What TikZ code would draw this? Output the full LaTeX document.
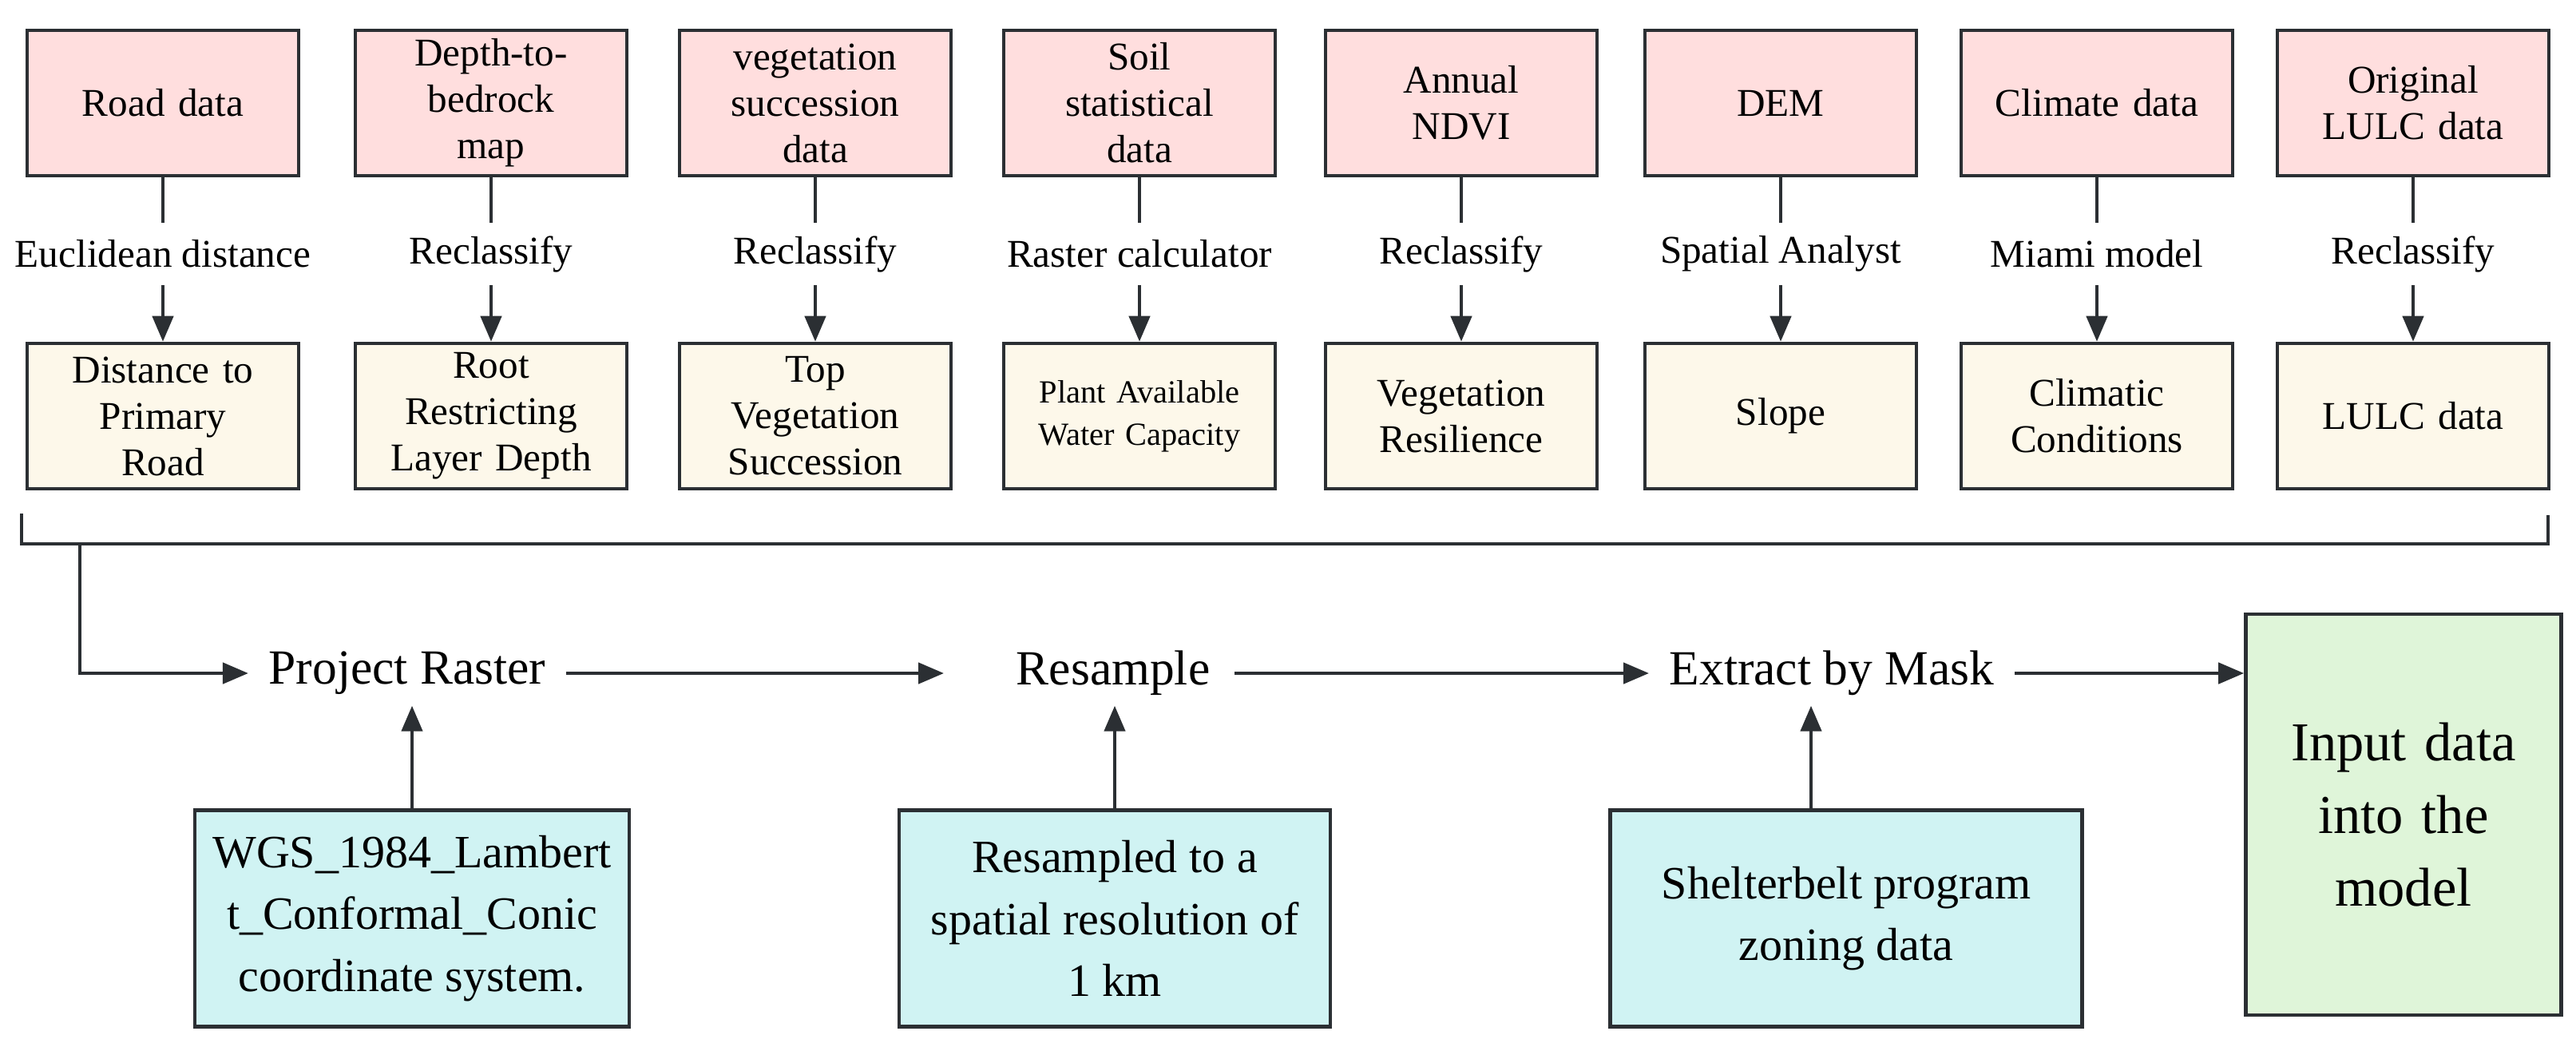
\documentclass[tikz,border=0pt]{standalone}
\usepackage{fontspec}
\setmainfont{Liberation Serif}
\usetikzlibrary{arrows.meta}

\definecolor{inkc}{HTML}{2B2F33}
\definecolor{pinkc}{HTML}{FFDEDE}
\definecolor{creamc}{HTML}{FDF8EA}
\definecolor{cyanc}{HTML}{D0F3F3}
\definecolor{greenc}{HTML}{DFF5D9}

\tikzset{
    src/.style={draw=inkc, line width=1.3pt, fill=pinkc, minimum width=3.4cm, minimum height=1.82cm,
        text width=3.2cm, align=center, inner sep=0pt, font=\rmfamily\fontsize{14}{16.5}\selectfont},
    res/.style={src, fill=creamc},
    oplabel/.style={inner sep=0pt, minimum height=0.76cm, font=\rmfamily\fontsize{14}{16}\selectfont},
    tool/.style={inner sep=0pt, minimum height=0.8cm, font=\rmfamily\fontsize{17.5}{20}\selectfont},
    info/.style={draw=inkc, line width=1.3pt, fill=cyanc, minimum height=2.71cm, align=center,
        font=\rmfamily\fontsize{16.5}{22}\selectfont},
    arr/.style={draw=inkc, line width=1.3pt, -{Triangle[length=0.32cm, width=0.26cm]}},
    ln/.style={draw=inkc, line width=1.3pt}
}

\begin{document}
\begin{tikzpicture}

        \useasboundingbox (0,0) rectangle (32.26,-13.16);

        % Sources
        \node [src] (s1) at (02.04,-01.29) {Road data};
        \node [src] (s2) at (06.15,-01.29) {Depth-to-\\bedrock\\map};
        \node [src] (s3) at (10.21,-01.29) {vegetation\\succession\\data};
        \node [src] (s4) at (14.27,-01.29) {Soil\\statistical\\data};
        \node [src] (s5) at (18.30,-01.29) {Annual\\NDVI};
        \node [src] (s6) at (22.30,-01.29) {DEM};
        \node [src] (s7) at (26.26,-01.29) {Climate data};
        \node [src] (s8) at (30.22,-01.29) {Original\\LULC data};

        % Operations
        \node [oplabel] (o1) at (02.04,-03.18) {Euclidean distance};
        \node [oplabel] (o2) at (06.15,-03.18) {Reclassify};
        \node [oplabel] (o3) at (10.21,-03.18) {Reclassify};
        \node [oplabel] (o4) at (14.27,-03.18) {Raster calculator};
        \node [oplabel] (o5) at (18.30,-03.18) {Reclassify};
        \node [oplabel] (o6) at (22.30,-03.18) {Spatial Analyst};
        \node [oplabel] (o7) at (26.26,-03.18) {Miami model};
        \node [oplabel] (o8) at (30.22,-03.18) {Reclassify};

        % Results
        \node [res] (r1) at (02.04,-05.21) {Distance to\\Primary\\Road};
        \node [res] (r2) at (06.15,-05.21) {Root\\Restricting\\Layer Depth};
        \node [res] (r3) at (10.21,-05.21) {Top\\Vegetation\\Succession};
        \node [res, font=\rmfamily\fontsize{11.5}{15}\selectfont] (r4) at (14.27,-05.21) {Plant Available\\Water Capacity};
        \node [res] (r5) at (18.30,-05.21) {Vegetation\\Resilience};
        \node [res] (r6) at (22.30,-05.21) {Slope};
        \node [res] (r7) at (26.26,-05.21) {Climatic\\Conditions};
        \node [res] (r8) at (30.22,-05.21) {LULC data};

        \foreach \i in {1,...,8} {
            \draw [ln] (s\i) -- (o\i);
            \draw [arr] (o\i) -- (r\i);
        }

        % Processing chain
        \node [tool] (pr) at (05.10,-08.43) {Project Raster};
        \node [tool] (rs) at (13.94,-08.43) {Resample};
        \node [tool] (em) at (22.94,-08.43) {Extract by Mask};
        \node [draw=inkc, line width=1.3pt, fill=greenc, minimum width=3.95cm, minimum height=5.02cm,
            text width=3.5cm, align=center, font=\rmfamily\fontsize{19.5}{26}\selectfont] (in) at (30.10,-10.20)
            {Input data\\into the\\model};

        \node [info, minimum width=5.44cm] (c1) at (05.16,-11.50) {WGS\_1984\_Lambert\\t\_Conformal\_Conic\\coordinate system.};
        \node [info, minimum width=5.40cm] (c2) at (13.96,-11.50) {Resampled to a\\spatial resolution of\\1 km};
        \node [info, minimum width=5.91cm] (c3) at (23.12,-11.50) {Shelterbelt program\\zoning data};

        % Bracket
        \coordinate (bl) at (00.27,-06.43);
        \coordinate (br) at (31.91,-06.45);
        \coordinate (bs) at (01.00,-06.81);
        \draw [ln] (bl) |- (br |- bs) -- (br);
        \draw [arr, shorten >=0.25cm] (bs) |- (pr.west);

        \draw [arr, shorten <=0.25cm, shorten >=0.9cm] (pr) -- (rs);
        \draw [arr, shorten <=0.3cm, shorten >=0.25cm] (rs) -- (em);
        \draw [arr, shorten <=0.25cm] (em.east) -- (em.east -| in.west);

        \draw [arr] (c1) -- (c1 |- pr.south);
        \draw [arr] (c2) -- (c2 |- rs.south);
        \coordinate (c3a) at (22.68,-10.15);
        \draw [arr] (c3a) -- (c3a |- em.south);

    \end{tikzpicture}
\end{document}
